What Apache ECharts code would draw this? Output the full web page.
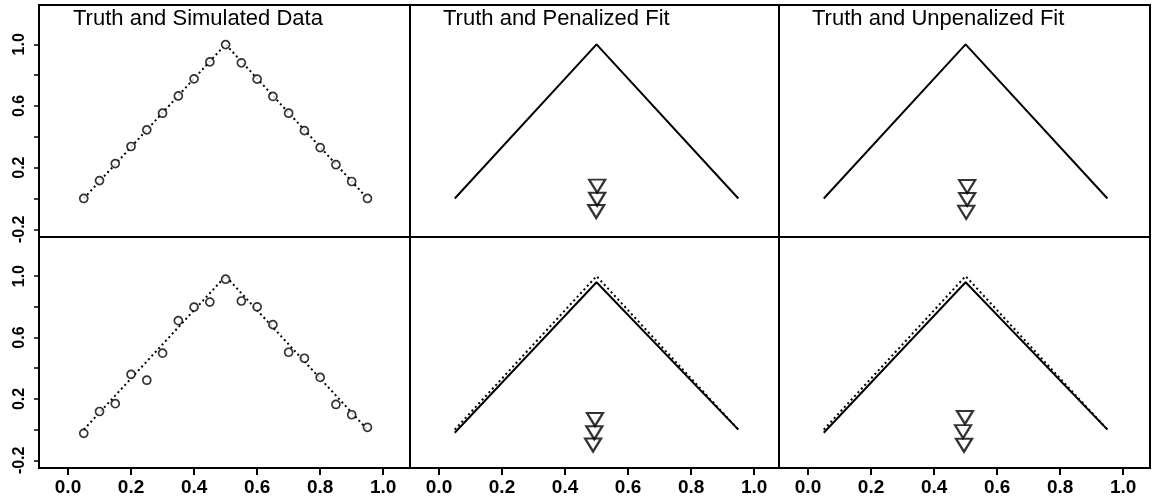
<!DOCTYPE html>
<html>
<head>
<meta charset="utf-8">
<script src="https://cdn.jsdelivr.net/npm/echarts@6/dist/echarts.min.js"></script>
<style>
  html, body { margin: 0; padding: 0; background: #fff; }
  #chart { width: 1153px; height: 501px; }
</style>
</head>
<body>
<div id="chart"></div>
<script>
// panel titles
var titles = ['Truth and Simulated Data', 'Truth and Penalized Fit', 'Truth and Unpenalized Fit'];

// design points and simulated responses
var xs = [0.05, 0.10, 0.15, 0.20, 0.25, 0.30, 0.35, 0.40, 0.45, 0.50,
          0.55, 0.60, 0.65, 0.70, 0.75, 0.80, 0.85, 0.90, 0.95];
var simTop = [0.00, 0.116, 0.226, 0.337, 0.445, 0.553, 0.665, 0.776, 0.886, 0.998,
              0.88, 0.774, 0.662, 0.553, 0.44, 0.33, 0.219, 0.11, 0.00];
var simBottom = [-0.024, 0.118, 0.169, 0.36, 0.322, 0.498, 0.71, 0.798, 0.831, 0.98,
                 0.838, 0.80, 0.684, 0.504, 0.465, 0.34, 0.164, 0.097, 0.015];

// truth and fitted curves (knot points)
var curveX = [0.05, 0.5, 0.95];
var truthY = [0, 1, 0];
var fitTopY = [0, 1, 0];
var fitBottomY = [-0.02, 0.96, 0.0];

// knot estimates shown as triangles, per panel
var knotsTopPen = [[0.502, 0.08], [0.502, -0.005], [0.499, -0.085]];
var knotsTopUnpen = [[0.505, 0.077], [0.505, -0.006], [0.502, -0.09]];
var knotsBotPen = [[0.495, 0.066], [0.493, -0.02], [0.489, -0.10]];
var knotsBotUnpen = [[0.498, 0.079], [0.492, -0.013], [0.495, -0.102]];

// axis ticks
var yTicks = [-0.2, 0, 0.2, 0.4, 0.6, 0.8, 1.0];
var yLabels = [-0.2, 0.2, 0.6, 1.0];

function pairs(x, y) {
  var out = [];
  for (var i = 0; i < x.length; i++) out.push([x[i], y[i]]);
  return out;
}

var xMin = -0.092;
var panelLeft = [39, 410, 779];
var panelWidth = [371, 369, 371];
var panelXMax = [1.085, 1.079, 1.085];
var rowTop = [5, 237];
var rowHeight = [232, 231];
var font = 'Liberation Sans, Arial, sans-serif';

var grids = [], xAxes = [], yAxes = [], series = [], titleList = [];
for (var r = 0; r < 2; r++) {
  for (var c = 0; c < 3; c++) {
    var idx = r * 3 + c;
    grids.push({
      left: panelLeft[c], top: rowTop[r], width: panelWidth[c], height: rowHeight[r],
      show: true, borderColor: '#000', borderWidth: 2, backgroundColor: 'transparent'
    });
    xAxes.push({
      type: 'value', gridIndex: idx, min: xMin, max: panelXMax[c],
      splitLine: { show: false },
      axisLine: { show: false, onZero: false },
      axisTick: { show: false },
      axisLabel: { show: false }
    });
    yAxes.push({
      type: 'value', gridIndex: idx, min: -0.25, max: 1.255,
      position: 'left',
      splitLine: { show: false },
      axisLine: { show: false, onZero: false },
      axisTick: { show: c === 0, customValues: yTicks, length: 5,
                  lineStyle: { color: '#000', width: 1.5 } },
      axisLabel: { show: c === 0, customValues: yLabels, rotate: 90, margin: 11,
                   formatter: function (v) { return v.toFixed(1); },
                   color: '#000', fontSize: 16, fontWeight: 'bold', fontFamily: font }
    });
  }
}

// thin strips under the bottom row, spanning x = 0 .. 1:
// their split lines act as the outward tick marks, their labels as the x labels
var bottomEdge = rowTop[1] + rowHeight[1];
for (var k = 0; k < 3; k++) {
  var scale = panelWidth[k] / (panelXMax[k] - xMin);
  var gi = grids.length;
  grids.push({
    left: panelLeft[k] + (0 - xMin) * scale, width: scale,
    top: bottomEdge, height: 7, show: false
  });
  xAxes.push({
    type: 'value', gridIndex: gi, min: 0, max: 1, interval: 0.2,
    position: 'bottom',
    splitLine: { show: true, lineStyle: { color: '#000', width: 2 } },
    axisLine: { show: false, onZero: false },
    axisTick: { show: false },
    axisLabel: { show: true, margin: 3,
                 formatter: function (v) { return v.toFixed(1); },
                 color: '#000', fontSize: 19, fontWeight: 'bold', fontFamily: font }
  });
  yAxes.push({ type: 'value', gridIndex: gi, min: 0, max: 1,
               axisLine: { show: false }, axisTick: { show: false },
               axisLabel: { show: false }, splitLine: { show: false } });
}

var titleLeft = [73, 443, 812];
for (var t = 0; t < 3; t++) {
  titleList.push({
    text: titles[t], left: titleLeft[t], top: 8, padding: 0,
    textStyle: { fontSize: 22, fontWeight: 'normal', color: '#000', fontFamily: font }
  });
}

var dotted = { color: '#000', width: 2, type: [2, 3] };
var solid = { color: '#000', width: 2 };
var circleStyle = { color: '#fff', borderColor: '#000', borderWidth: 1.7 };
var triStyle = { color: 'transparent', borderColor: '#000', borderWidth: 2.2 };

function line(idx, data, style, z) {
  return { type: 'line', xAxisIndex: idx, yAxisIndex: idx, data: data,
           showSymbol: false, symbol: 'none', lineStyle: style, z: z || 2,
           animation: false, silent: true };
}
function scatter(idx, data, sym, size, style, rot) {
  return { type: 'scatter', xAxisIndex: idx, yAxisIndex: idx, data: data,
           symbol: sym, symbolSize: size, symbolRotate: rot || 0,
           itemStyle: style, z: 3, animation: false, silent: true };
}

// top row
series.push(line(0, pairs(curveX, truthY), dotted));
series.push(scatter(0, pairs(xs, simTop), 'circle', 8, circleStyle));
series.push(line(1, pairs(curveX, fitTopY), solid));
series.push(scatter(1, knotsTopPen, 'triangle', [16, 13], triStyle, 180));
series.push(line(2, pairs(curveX, fitTopY), solid));
series.push(scatter(2, knotsTopUnpen, 'triangle', [16, 13], triStyle, 180));
// bottom row
series.push(line(3, pairs(curveX, truthY), dotted));
series.push(scatter(3, pairs(xs, simBottom), 'circle', 8, circleStyle));
series.push(line(4, pairs(curveX, truthY), dotted, 1));
series.push(line(4, pairs(curveX, fitBottomY), solid));
series.push(scatter(4, knotsBotPen, 'triangle', [16, 13], triStyle, 180));
series.push(line(5, pairs(curveX, truthY), dotted, 1));
series.push(line(5, pairs(curveX, fitBottomY), solid));
series.push(scatter(5, knotsBotUnpen, 'triangle', [16, 13], triStyle, 180));

var chart = echarts.init(document.getElementById('chart'));
chart.setOption({
  backgroundColor: '#fff',
  animation: false,
  title: titleList,
  grid: grids,
  xAxis: xAxes,
  yAxis: yAxes,
  series: series
});
</script>
</body>
</html>
